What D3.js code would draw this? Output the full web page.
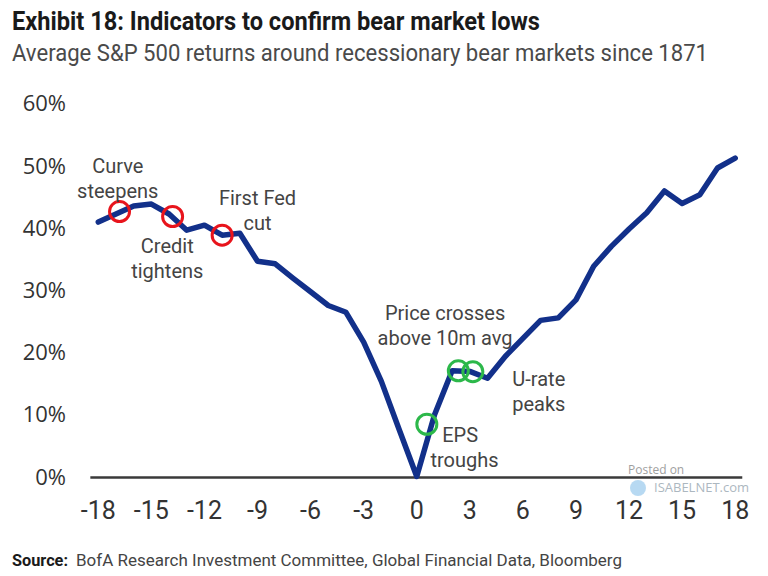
<!DOCTYPE html>
<html>
<head>
<meta charset="utf-8">
<script src="https://cdn.jsdelivr.net/npm/d3@7"></script>
<style>
  html, body { margin: 0; padding: 0; background: #ffffff; }
  svg { display: block; }
</style>
</head>
<body>
<svg id="chart" width="768" height="576"></svg>
<script>
// ---- Data ----
const months = [-18,-17,-16,-15,-14,-13,-12,-11,-10,-9,-8,-7,-6,-5,-4,-3,-2,-1,0,1,2,3,4,5,6,7,8,9,10,11,12,13,14,15,16,17,18];
const returns = [40.9,42.2,43.5,43.8,42.2,39.6,40.4,38.8,39.1,34.6,34.2,31.9,29.7,27.5,26.4,21.6,15.3,7.6,0,9.9,17.0,16.9,15.8,19.3,22.2,25.1,25.5,28.4,33.8,37.0,39.8,42.4,45.9,43.9,45.3,49.6,51.2];

const yTicks = [0,10,20,30,40,50,60];
const xTicks = [-18,-15,-12,-9,-6,-3,0,3,6,9,12,15,18];

const redMarkerMonths = [-16.8, -13.8, -11.0];
const redMarkerValues = [42.6, 41.8, 38.8];
const greenMarkerMonths = [0.57, 2.35, 3.17];
const greenMarkerValues = [8.4, 17.0, 16.85];

const title = "Exhibit 18: Indicators to confirm bear market lows";
const subtitle = "Average S&P 500 returns around recessionary bear markets since 1871";
const sourceLabel = "Source:";
const sourceText = "BofA Research Investment Committee, Global Financial Data, Bloomberg";

// annotations: lines of text, anchor month/value
const annotations = [
  { lines: ["Curve", "steepens"], m: -16.9, v: 50.0 },
  { lines: ["Credit", "tightens"], m: -14.1, v: 37.1 },
  { lines: ["First Fed", "cut"], m: -9.0, v: 44.8 },
  { lines: ["Price crosses", "above 10m avg"], m: 1.6, v: 26.3 },
  { lines: ["U-rate", "peaks"], m: 6.9, v: 15.6 },
  { lines: ["EPS", "troughs"], m: 2.7, v: 6.7, dx: [-0.25, 0] }
];

// ---- Drawing ----
const svg = d3.select("#chart");
const x = d3.scaleLinear().domain([-18, 18]).range([98.3, 735.2]);
const y = d3.scaleLinear().domain([0, 60]).range([476.5, 103.3]);

const condensed = "Roboto, 'Liberation Sans Narrow', sans-serif";
const regular = "'Open Sans', 'Noto Sans', sans-serif";

// title
svg.append("text")
  .attr("x", 12).attr("y", 30)
  .attr("font-family", condensed).attr("font-weight", "bold")
  .attr("font-size", 25).attr("fill", "#1a1a1a")
  .attr("textLength", 528).attr("lengthAdjust", "spacingAndGlyphs")
  .text(title);
svg.append("text")
  .attr("x", 12).attr("y", 61)
  .attr("font-family", condensed)
  .attr("font-size", 24).attr("fill", "#4a4a4a")
  .attr("textLength", 696).attr("lengthAdjust", "spacingAndGlyphs")
  .text(subtitle);

// y axis labels
svg.append("g").selectAll("text").data(yTicks).join("text")
  .attr("x", 66).attr("y", d => y(d) - 1)
  .attr("text-anchor", "end").attr("dominant-baseline", "central")
  .attr("font-family", regular).attr("font-size", 22).attr("fill", "#333")
  .text(d => d + "%");

// x axis labels
svg.append("g").selectAll("text").data(xTicks).join("text")
  .attr("x", d => x(d)).attr("y", 510)
  .attr("text-anchor", "middle").attr("dominant-baseline", "central")
  .attr("font-family", condensed).attr("font-size", 25).attr("fill", "#333")
  .text(d => d);

// zero line
svg.append("line")
  .attr("x1", x(-18.45)).attr("x2", x(18.4))
  .attr("y1", y(0) + 1).attr("y2", y(0) + 1)
  .attr("stroke", "#3a3a3a").attr("stroke-width", 2.5);

// watermark
const wm = svg.append("g").attr("opacity", 0.7);
wm.append("text").attr("x", 628).attr("y", 474)
  .attr("font-family", regular).attr("font-size", 12).attr("fill", "#777").text("Posted on");
wm.append("circle").attr("cx", 638).attr("cy", 488).attr("r", 8)
  .attr("fill", "#6fb3e6").attr("opacity", 0.7);
wm.append("text").attr("x", 654).attr("y", 492)
  .attr("font-family", regular).attr("font-size", 13).attr("fill", "#8a9aa6").text("ISABELNET.com");

// line
const line = d3.line().x((d, i) => x(months[i])).y(d => y(d));
svg.append("path")
  .datum(returns)
  .attr("d", line)
  .attr("fill", "none")
  .attr("stroke", "#12308a")
  .attr("stroke-width", 5.5)
  .attr("stroke-linejoin", "round")
  .attr("stroke-linecap", "round");

// markers
svg.append("g").selectAll("circle").data(redMarkerMonths).join("circle")
  .attr("cx", d => x(d)).attr("cy", (d, i) => y(redMarkerValues[i]))
  .attr("r", 10).attr("fill", "none").attr("stroke", "#e8141c").attr("stroke-width", 3);
svg.append("g").selectAll("circle").data(greenMarkerMonths).join("circle")
  .attr("cx", d => x(d)).attr("cy", (d, i) => y(greenMarkerValues[i]))
  .attr("r", 10).attr("fill", "none").attr("stroke", "#2cb84a").attr("stroke-width", 3);

// annotations
annotations.forEach(a => {
  const g = svg.append("g");
  a.lines.forEach((t, i) => {
    const dx = a.dx ? a.dx[i] : 0;
    g.append("text")
      .attr("x", x(a.m + dx)).attr("y", y(a.v) + i * 25)
      .attr("text-anchor", "middle").attr("dominant-baseline", "central")
      .attr("font-family", condensed).attr("font-size", 20).attr("fill", "#444")
      .text(t);
  });
});

// source
svg.append("text").attr("x", 12).attr("y", 566)
  .attr("font-family", condensed).attr("font-size", 17).attr("font-weight", "bold")
  .attr("fill", "#1a1a1a")
  .attr("textLength", 56).attr("lengthAdjust", "spacingAndGlyphs")
  .text(sourceLabel);
svg.append("text").attr("x", 76).attr("y", 566)
  .attr("font-family", condensed).attr("font-size", 17).attr("fill", "#444")
  .attr("textLength", 546).attr("lengthAdjust", "spacingAndGlyphs")
  .text(sourceText);
</script>
</body>
</html>
